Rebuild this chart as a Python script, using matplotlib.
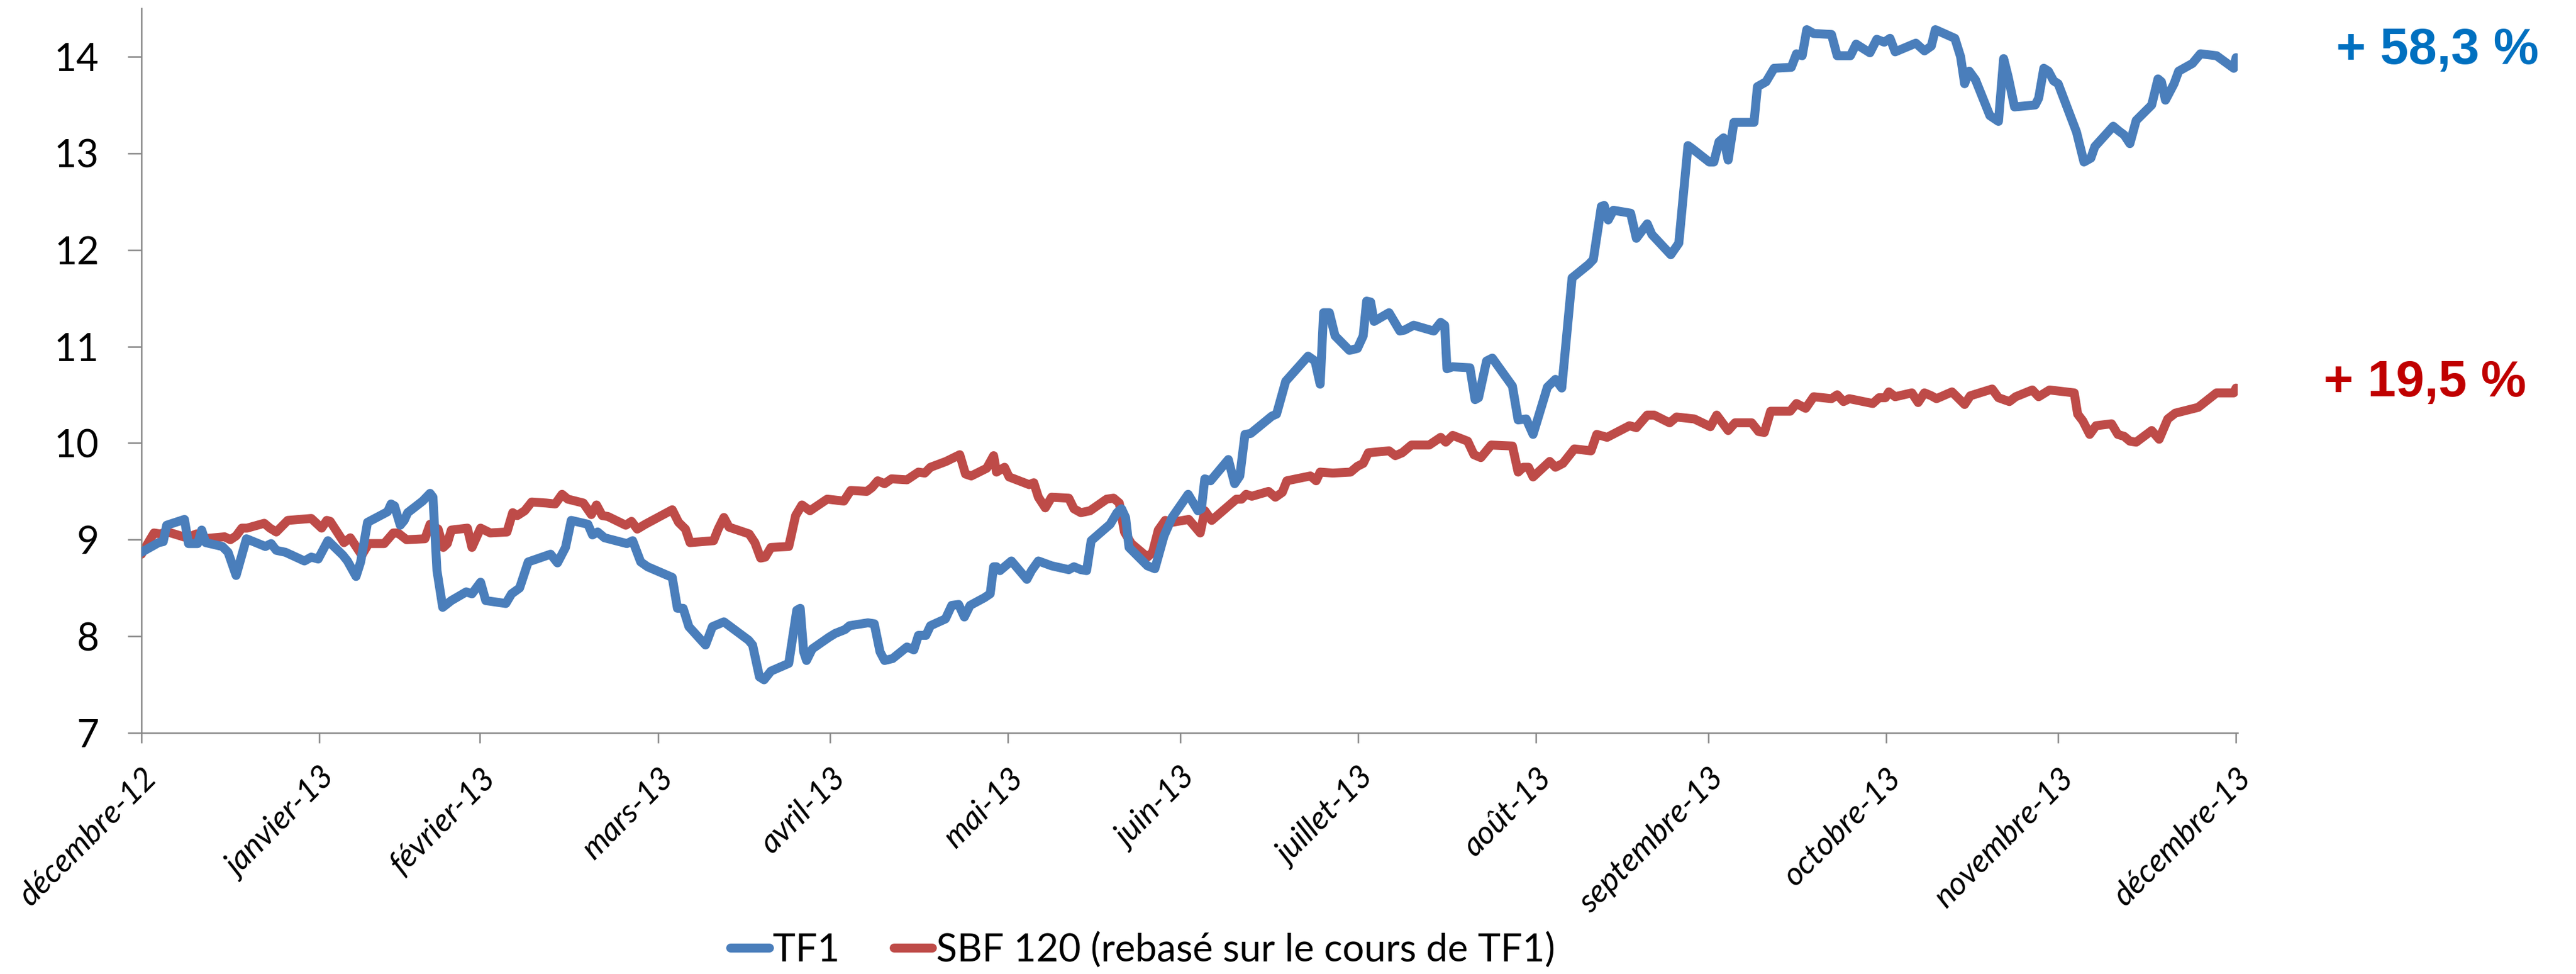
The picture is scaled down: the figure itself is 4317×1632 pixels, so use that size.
"""
TF1 vs SBF 120 (rebasé) — cours sur l'année 2013
Reproduction du graphique Excel d'origine avec matplotlib.
"""

import pandas as pd
import matplotlib
matplotlib.use("Agg")
import matplotlib.pyplot as plt

plt.rcParams["font.family"] = ["Lato", "DejaVu Sans"]

ORIGINE = pd.Timestamp("2012-12-31")   # jour 0 de l'axe

# cours (jours depuis le 31/12/2012, valeur en euros)
tf1_jours = [0, 3.0, 3.8, 4.4, 7.5, 8.2, 9.8, 10.5, 11.2, 14.1, 15.1, 16.5, 18.3, 21.6, 22.6, 23.5,
             25.1, 28.4, 29.6, 30.8, 32.5, 35.1, 35.9, 37.4, 38.2, 39.4, 42.9, 43.5, 44.1, 45.1,
             45.8, 46.4, 49.0, 50.3, 50.8, 51.5, 52.5, 54.0, 56.6, 57.6, 59.1, 60.0,
             63.5, 64.5, 65.9, 67.4, 71.3, 72.5, 73.9, 74.9, 77.8, 78.6, 79.5, 80.7, 84.6, 85.6,
             87.0, 88.2, 92.5, 93.4, 94.4, 95.4, 98.3, 99.5, 101.5, 105.8, 106.5, 107.7, 108.5,
             109.7, 112.8, 114.2, 114.8, 115.4, 115.9, 116.9, 119.8,
             120.9, 122.6, 123.4, 126.6, 127.7, 128.7, 129.5, 130.9, 133.4, 134.6, 135.4, 136.7,
             137.5, 140.1, 141.2, 142.4, 143.4, 144.4, 146.9, 147.9, 148.5, 149.0, 149.6, 151.6,
             154.3, 155.1, 156.3, 158.6, 161.6, 162.5, 163.7, 164.7, 165.5, 168.8, 170.0, 170.8,
             171.5, 172.1, 175.3, 176.6, 178.2, 179.6,
             182.4, 184.1, 184.7, 185.3, 186.3, 189.4, 190.5, 191.4, 192.3, 193.3, 197.0, 197.8,
             199.4, 203.3, 204.5, 205.4, 206.0, 207.0, 208.0, 210.5, 211.9, 212.9, 213.5, 214.2,
             214.8, 217.4, 219.3, 220.1, 221.7, 225.2, 226.4, 227.1, 227.5, 228.5, 231.5, 232.4,
             233.0, 234.4, 235.4, 238.9, 239.9, 241.3,
             242.5, 245.0, 246.4, 247.5, 249.3, 252.2, 253.0, 254.4, 254.9, 255.6, 256.5, 259.5,
             260.5, 262.4, 263.2, 266.5, 267.9, 269.5, 270.2, 273.2, 274.0, 274.9, 275.7, 276.5,
             277.5, 281.0, 281.6, 283.1, 284.5, 287.5, 288.4, 289.4, 290.2, 291.4, 294.5, 295.5,
             297.8, 298.8, 301.2,
             302.4, 303.7, 304.7, 305.6, 309.2, 310.7, 311.9, 312.6, 316.0, 317.0, 317.7, 318.5,
             319.6, 322.1, 323.6, 324.5, 325.3, 326.4, 330.0, 330.6, 331.5, 332.3, 333.2, 334.0,
             337.2, 338.5, 339.7, 340.4, 343.6, 344.6, 345.5, 346.5, 347.6, 350.3, 351.4, 352.0,
             352.7, 354.2, 355.0, 357.4, 358.8, 361.6, 364.6, 365.0]
tf1_cours = [8.87, 8.97, 8.98, 9.15, 9.21, 8.96, 8.96, 9.10, 8.97, 8.93, 8.87, 8.63, 9.01, 8.93, 8.96, 8.89,
             8.87, 8.78, 8.82, 8.80, 8.99, 8.84, 8.78, 8.62, 8.77, 9.18, 9.29, 9.37, 9.35, 9.15,
             9.20, 9.28, 9.40, 9.48, 9.44, 8.68, 8.30, 8.37, 8.46, 8.44, 8.56, 8.37,
             8.34, 8.44, 8.50, 8.77, 8.85, 8.76, 8.92, 9.20, 9.16, 9.05, 9.08, 9.02, 8.96, 8.99,
             8.77, 8.72, 8.61, 8.29, 8.29, 8.10, 7.91, 8.10, 8.15, 7.96, 7.91, 7.58, 7.55,
             7.64, 7.72, 8.27, 8.29, 7.84, 7.75, 7.87, 7.99,
             8.03, 8.07, 8.11, 8.14, 8.13, 7.84, 7.75, 7.77, 7.89, 7.86, 8.01, 8.01,
             8.11, 8.18, 8.32, 8.33, 8.20, 8.32, 8.40, 8.44, 8.72, 8.72, 8.68, 8.78,
             8.59, 8.68, 8.78, 8.73, 8.69, 8.72, 8.69, 8.68, 8.99, 9.16, 9.28, 9.32,
             9.23, 8.92, 8.73, 8.70, 9.04, 9.23,
             9.47, 9.30, 9.32, 9.63, 9.61, 9.83, 9.58, 9.66, 10.09, 10.10, 10.28, 10.30,
             10.64, 10.90, 10.85, 10.61, 11.35, 11.35, 11.11, 10.96, 10.98, 11.11, 11.47, 11.46,
             11.26, 11.35, 11.16, 11.17, 11.22, 11.16, 11.25, 11.22, 10.77, 10.79, 10.78, 10.45,
             10.47, 10.85, 10.88, 10.59, 10.24, 10.25,
             10.09, 10.58, 10.66, 10.57, 11.71, 11.85, 11.90, 12.45, 12.46, 12.31, 12.41, 12.38,
             12.12, 12.27, 12.16, 11.95, 12.07, 13.08, 13.05, 12.91, 12.91, 13.12, 13.16, 12.93,
             13.32, 13.32, 13.69, 13.74, 13.88, 13.89, 14.03, 14.01, 14.28, 14.24, 14.23, 14.01,
             14.01, 14.13, 14.04,
             14.18, 14.15, 14.19, 14.05, 14.14, 14.06, 14.11, 14.28, 14.19, 14.00, 13.72, 13.85,
             13.76, 13.39, 13.33, 13.98, 13.79, 13.48, 13.50, 13.57, 13.88, 13.85, 13.75, 13.72,
             13.22, 12.91, 12.95, 13.07, 13.28, 13.23, 13.19, 13.10, 13.34, 13.50, 13.77, 13.74,
             13.55, 13.72, 13.85, 13.93, 14.03, 14.01, 13.88, 13.99]

sbf_jours = [0, 2.2, 3.2, 4.6, 7.9, 9.6, 10.8, 14.5, 15.5, 16.5, 17.5, 18.4, 21.4, 22.4, 23.5, 25.5,
             29.6, 31.4, 32.3, 32.9, 35.3, 36.4, 38.4, 39.6, 42.3, 43.9, 44.7, 46.2, 49.4, 50.3,
             51.7, 52.6, 53.3, 54.0, 56.8, 57.6, 59.1,
             60.8, 63.7, 64.7, 65.5, 66.8, 68.0, 70.5, 72.1, 73.3, 74.3, 77.0, 78.4, 79.3, 80.3,
             81.3, 84.4, 85.4, 86.4, 87.8, 92.5, 93.6, 94.8, 95.6, 99.7, 100.5, 101.5, 102.4,
             105.9, 106.9, 107.9, 108.7, 109.7, 112.8, 114.0, 115.1, 116.5, 119.5,
             122.4, 123.6, 126.4, 127.3, 128.3, 129.5, 130.7, 133.4, 135.4, 136.5, 137.5, 140.2,
             142.6, 143.6, 144.6, 147.3, 148.5, 149.0, 150.4, 151.2, 154.7, 155.5, 156.3, 157.5,
             158.6, 161.6, 162.5, 163.7, 165.3, 168.2, 169.4, 170.4, 171.3, 172.5, 175.3, 176.2,
             177.2, 178.4, 179.6,
             182.5, 184.5, 185.3, 186.5, 190.8, 191.7, 192.5, 193.5, 196.4, 197.6, 198.8, 199.6,
             203.7, 204.7, 205.4, 207.6, 210.7, 211.9, 212.9, 213.8, 217.4, 218.5, 219.7, 221.3,
             224.4, 226.4, 227.3, 228.5, 231.1, 232.2, 233.4, 235.2, 238.9, 239.9, 240.8,
             241.7, 242.5, 245.4, 246.4, 247.7, 249.7, 252.6, 253.6, 255.4, 259.3, 260.5, 262.4,
             263.6, 266.3, 267.5, 270.6, 273.4, 274.5, 276.5, 277.7, 280.6, 281.8, 282.8, 283.9,
             287.3, 288.4, 290.0, 291.4, 294.5, 295.5, 296.6, 297.6, 301.7,
             302.8, 303.9, 304.5, 305.6, 308.5, 309.6, 310.7, 311.9, 312.8, 315.5, 317.7, 318.7,
             322.5, 323.6, 325.5, 326.6, 329.5, 330.6, 332.5, 336.8, 337.4, 338.3, 339.5, 340.6,
             343.3, 344.4, 345.5, 346.5, 347.6, 350.3, 351.6, 353.1, 354.4, 358.4, 361.6, 364.6,
             365.0]
sbf_cours = [8.85, 9.07, 9.06, 9.08, 9.02, 9.06, 9.01, 9.03, 9.00, 9.04, 9.12, 9.12, 9.17, 9.12, 9.08, 9.20,
             9.22, 9.12, 9.20, 9.19, 8.97, 9.02, 8.84, 8.96, 8.96, 9.07, 9.07, 9.00, 9.01, 9.16,
             9.11, 8.92, 8.96, 9.10, 9.12, 8.92, 9.12,
             9.07, 9.08, 9.28, 9.25, 9.30, 9.39, 9.38, 9.37, 9.47, 9.42, 9.38, 9.26, 9.36, 9.25,
             9.24, 9.15, 9.19, 9.11, 9.16, 9.31, 9.18, 9.11, 8.97, 8.99, 9.11, 9.23, 9.13,
             9.06, 8.97, 8.81, 8.82, 8.92, 8.93, 9.25, 9.36, 9.30, 9.42,
             9.40, 9.51, 9.50, 9.54, 9.61, 9.58, 9.63, 9.62, 9.70, 9.69, 9.75, 9.81,
             9.88, 9.68, 9.66, 9.74, 9.87, 9.70, 9.75, 9.65, 9.57, 9.59, 9.44, 9.33,
             9.44, 9.43, 9.32, 9.28, 9.30, 9.42, 9.43, 9.38, 9.08, 8.96, 8.82, 8.87,
             9.10, 9.20, 9.18,
             9.21, 9.07, 9.30, 9.20, 9.42, 9.42, 9.47, 9.45, 9.50, 9.44, 9.49, 9.61,
             9.66, 9.61, 9.70, 9.69, 9.70, 9.76, 9.79, 9.90, 9.92, 9.87, 9.90, 9.98,
             9.98, 10.06, 10.01, 10.08, 10.02, 9.88, 9.85, 9.98, 9.97, 9.70, 9.75,
             9.75, 9.65, 9.81, 9.75, 9.79, 9.94, 9.92, 10.09, 10.06, 10.18, 10.16, 10.29,
             10.29, 10.21, 10.27, 10.25, 10.17, 10.29, 10.13, 10.21, 10.21, 10.12, 10.11, 10.33,
             10.33, 10.41, 10.36, 10.48, 10.46, 10.50, 10.43, 10.46, 10.41,
             10.47, 10.47, 10.53, 10.48, 10.52, 10.42, 10.52, 10.49, 10.46, 10.53, 10.40, 10.49,
             10.56, 10.47, 10.43, 10.48, 10.55, 10.48, 10.55, 10.52, 10.30, 10.23, 10.09, 10.18,
             10.20, 10.09, 10.07, 10.02, 10.01, 10.13, 10.04, 10.25, 10.31, 10.37, 10.52, 10.52,
             10.57]

mois = ["décembre-12", "janvier-13", "février-13", "mars-13", "avril-13", "mai-13", "juin-13",
        "juillet-13", "août-13", "septembre-13", "octobre-13", "novembre-13", "décembre-13"]
graduations_y = [7, 8, 9, 10, 11, 12, 13, 14]

series = ["TF1", "SBF 120 (rebasé sur le cours de TF1)"]
perf_tf1 = "+ 58,3 %"
perf_sbf = "+ 19,5 %"

BLEU = "#4A7EBB"
ROUGE = "#BE4B48"
GRIS = "#868686"


def main():
    fig = plt.figure(figsize=(4317 / 300, 1632 / 300), dpi=300)
    ax = fig.add_axes([0.0549, 0.2475, 0.8138, 0.7439])

    x_tf1 = ORIGINE + pd.to_timedelta(tf1_jours, unit="D")
    x_sbf = ORIGINE + pd.to_timedelta(sbf_jours, unit="D")

    style = dict(lw=3.6, solid_joinstyle="round", solid_capstyle="round")
    ax.plot(x_tf1, tf1_cours, color=BLEU, label=series[0], zorder=3, **style)
    ax.plot(x_sbf, sbf_cours, color=ROUGE, label=series[1], zorder=2, **style)

    ax.set_ylim(7, 14.5)
    ax.set_xlim(ORIGINE, ORIGINE + pd.Timedelta(days=365.3))

    fins_de_mois = pd.date_range(ORIGINE, periods=len(mois), freq="ME")
    ax.set_xticks(fins_de_mois)
    ax.set_xticklabels(mois, rotation=45, ha="right", va="top", rotation_mode="anchor",
                       fontstyle="italic", fontsize=13)
    ax.set_yticks(graduations_y)
    ax.set_yticklabels([str(v) for v in graduations_y], fontsize=15.5)

    ax.tick_params(axis="y", direction="out", length=5.5, width=0.6, color=GRIS, pad=11.5)
    ax.tick_params(axis="x", direction="out", length=4, width=0.6, color=GRIS, pad=8)
    for side in ["top", "right"]:
        ax.spines[side].set_visible(False)
    for side in ["left", "bottom"]:
        ax.spines[side].set_color(GRIS)
        ax.spines[side].set_linewidth(0.6)

    ax.legend(loc="center", bbox_to_anchor=(0.4436, 0.025), bbox_transform=fig.transFigure,
              ncol=2, frameon=False, handlelength=1.0, handletextpad=0.1,
              columnspacing=1.4, fontsize=15.5)

    fig.text(0.9069, 0.948, perf_tf1, color="#0070C0", fontsize=20.5, fontweight="bold",
             family="Liberation Sans", ha="left", va="center")
    fig.text(0.9020, 0.6066, perf_sbf, color="#C00000", fontsize=20.5, fontweight="bold",
             family="Liberation Sans", ha="left", va="center")

    fig.savefig("out.png", dpi=300)
    plt.close(fig)


if __name__ == "__main__":
    main()
